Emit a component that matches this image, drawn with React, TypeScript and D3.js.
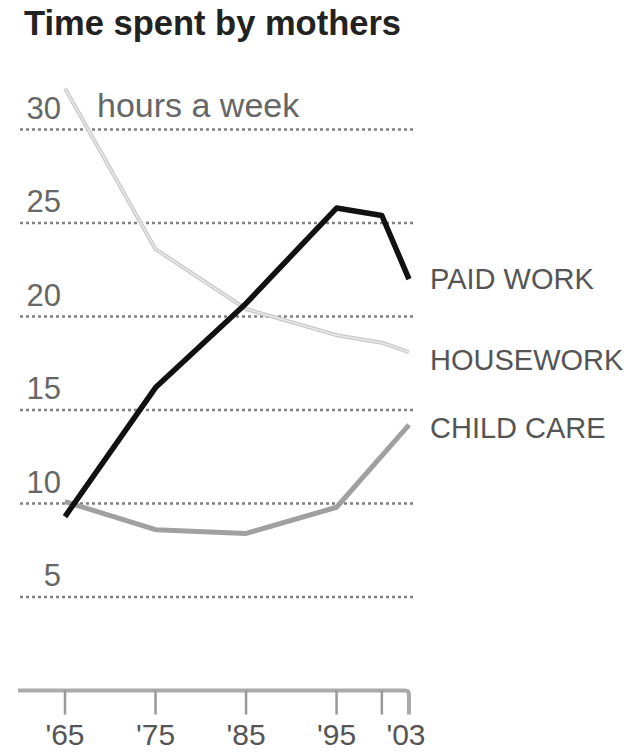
import React from "react";
import * as d3 from "d3";

const paidYears = [1965, 1975, 1985, 1995, 2000, 2003];
const paidHours = [9.3, 16.2, 20.7, 25.8, 25.4, 22.0];
const houseYears = [1965, 1975, 1985, 1995, 2000, 2003];
const houseHours = [32.2, 23.6, 20.4, 19.0, 18.6, 18.1];
const childYears = [1965, 1975, 1985, 1995, 2003];
const childHours = [10.1, 8.6, 8.4, 9.8, 14.2];

const yTicks = [5, 10, 15, 20, 25, 30];
const xTicks = [1965, 1975, 1985, 1995, 2000, 2003];
const xTickLabels = ["'65", "'75", "'85", "'95", "", "'03"];

const title = "Time spent by mothers";
const unitLabel = "hours a week";
const seriesLabels = ["PAID WORK", "HOUSEWORK", "CHILD CARE"];

const FONT = "'Liberation Sans', Arial, Helvetica, sans-serif";

export default function App() {
  const W = 631;
  const H = 754;
  const x = d3.scaleLinear().domain([1965, 2003]).range([65, 409]);
  const y = d3.scaleLinear().domain([0, 30]).range([690.5, 129.5]);
  const line = d3
    .line<[number, number]>()
    .x((d) => x(d[0]))
    .y((d) => y(d[1]))
    .curve(d3.curveLinear);

  const paid = paidYears.map((yr, i) => [yr, paidHours[i]] as [number, number]);
  const house = houseYears.map((yr, i) => [yr, houseHours[i]] as [number, number]);
  const child = childYears.map((yr, i) => [yr, childHours[i]] as [number, number]);

  const gridX0 = 20;
  const gridX1 = 413;
  const axisY = y(0);
  const lastX = x(2003);

  const labelY = [y(22.0) + 10, y(18.1) + 18, y(14.2) + 13];

  return (
    <svg
      width={W}
      height={H}
      style={{ position: "absolute", left: 0, top: 0, background: "#fff" }}
      fontFamily={FONT}
    >
      <text x={24} y={35} fontSize={34.5} fontWeight="bold" fill="#222">
        {title}
      </text>

      {/* gridlines */}
      {yTicks.map((t) => (
        <line
          key={"g" + t}
          x1={gridX0}
          x2={gridX1}
          y1={y(t)}
          y2={y(t)}
          stroke="#808080"
          strokeWidth={2.5}
          strokeDasharray="3 3"
        />
      ))}
      {yTicks.map((t) => (
        <text
          key={"l" + t}
          x={61}
          y={y(t) - 11}
          fontSize={31}
          textAnchor="end"
          fill="#666"
        >
          {t}
        </text>
      ))}
      <text x={97} y={117} fontSize={34} fill="#666">
        {unitLabel}
      </text>

      {/* x axis */}
      <path
        d={`M18,${axisY} L${lastX - 4},${axisY} Q${lastX},${axisY} ${lastX},${axisY + 4} L${lastX},${axisY + 24}`}
        fill="none"
        stroke="#aaa"
        strokeWidth={4}
      />
      {xTicks.slice(0, -1).map((t) => (
        <line
          key={"t" + t}
          x1={x(t)}
          x2={x(t)}
          y1={axisY}
          y2={axisY + 24}
          stroke="#999"
          strokeWidth={2.5}
        />
      ))}
      {xTicks.map((t, i) =>
        xTickLabels[i] ? (
          <text
            key={"xl" + t}
            x={x(t) - (t === 2003 ? 3 : 0)}
            y={745}
            fontSize={30}
            textAnchor="middle"
            fill="#555"
          >
            {xTickLabels[i]}
          </text>
        ) : null
      )}

      {/* lines */}
      <path d={line(house) || ""} fill="none" stroke="#c9c9c9" strokeWidth={4} strokeLinejoin="round" />
      <path d={line(house) || ""} fill="none" stroke="#e8e8e8" strokeWidth={1.5} strokeLinejoin="round" />
      <path d={line(child) || ""} fill="none" stroke="#a0a0a0" strokeWidth={5} strokeLinejoin="round" />
      <path d={line(paid) || ""} fill="none" stroke="#111" strokeWidth={5.5} strokeLinejoin="round" />

      {/* series labels */}
      {seriesLabels.map((s, i) => (
        <text key={s} x={430} y={labelY[i]} fontSize={29} fill="#555">
          {s}
        </text>
      ))}
    </svg>
  );
}
